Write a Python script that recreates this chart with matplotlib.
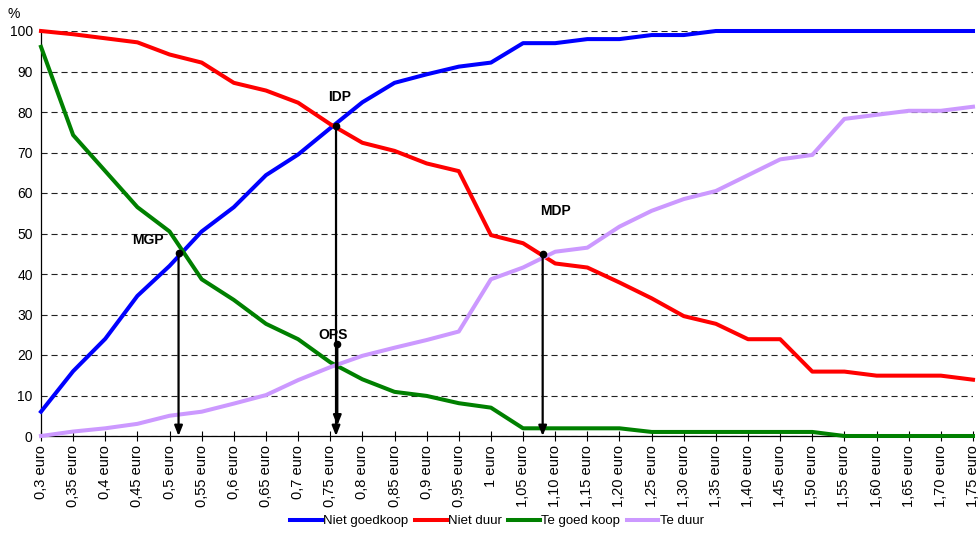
import matplotlib
matplotlib.use("Agg")
import matplotlib.pyplot as plt
import numpy as np

plt.rcParams['font.family'] = ['Liberation Sans', 'DejaVu Sans']

prices = [0.30, 0.35, 0.40, 0.45, 0.50, 0.55, 0.60, 0.65, 0.70, 0.75,
          0.80, 0.85, 0.90, 0.95, 1.00, 1.05, 1.10, 1.15, 1.20, 1.25,
          1.30, 1.35, 1.40, 1.45, 1.50, 1.55, 1.60, 1.65, 1.70, 1.75]
tick_labels = ["0,3 euro", "0,35 euro", "0,4 euro", "0,45 euro", "0,5 euro",
               "0,55 euro", "0,6 euro", "0,65 euro", "0,7 euro", "0,75 euro",
               "0,8 euro", "0,85 euro", "0,9 euro", "0,95 euro", "1 euro",
               "1,05 euro", "1,10 euro", "1,15 euro", "1,20 euro", "1,25 euro",
               "1,30 euro", "1,35 euro", "1,40 euro", "1,45 euro", "1,50 euro",
               "1,55 euro", "1,60 euro", "1,65 euro", "1,70 euro", "1,75 euro"]

niet_goedkoop = [6, 16, 24, 34.6, 42, 50.5, 56.5, 64.4, 69.5, 76,
                 82.4, 87.2, 89.3, 91.2, 92.2, 97, 97, 98, 98, 99,
                 99, 100, 100, 100, 100, 100, 100, 100, 100, 100]
niet_duur = [100, 99.2, 98.2, 97.2, 94.2, 92.2, 87.2, 85.3, 82.3, 77,
             72.4, 70.4, 67.3, 65.4, 49.6, 47.6, 42.6, 41.6, 37.9, 34,
             29.6, 27.7, 23.9, 23.9, 15.9, 15.9, 14.9, 14.9, 14.9, 13.9]
te_goedkoop = [96.1, 74.3, 65.4, 56.5, 50.5, 38.7, 33.6, 27.7, 23.9, 18.2,
               14, 10.9, 9.9, 8.1, 7, 1.9, 1.9, 1.9, 1.9, 1,
               1, 1, 1, 1, 1, 0, 0, 0, 0, 0]
te_duur = [0, 1.1, 1.9, 3, 5, 6, 8, 10.1, 13.8, 17,
           19.8, 21.8, 23.7, 25.8, 38.7, 41.6, 45.5, 46.5, 51.7, 55.6,
           58.5, 60.5, 64.4, 68.3, 69.4, 78.3, 79.3, 80.3, 80.3, 81.3]

series_names = ["Niet goedkoop", "Niet duur", "Te goed koop", "Te duur"]
series_colors = ["#0000FF", "#FF0000", "#008000", "#CC99FF"]

# annotations: label, price (euro), y value of dot, arrow end, label x (euro), label y
ann_labels = ["MGP", "IDP", "OPS", "MDP"]
ann_price = [0.514, 0.759, 0.761, 1.0805]
ann_y = [45.3, 76.5, 22.7, 44.9]
ann_end = [0, 0, 2.6, 0]
ann_text_price = [0.467, 0.765, 0.754, 1.101]
ann_text_y = [48.3, 83.8, 24.9, 55.6]

W, H = 980, 535
fig = plt.figure(figsize=(W / 100, H / 100), dpi=100)
ax = fig.add_axes([41 / W, (H - 436) / H, (973 - 41) / W, (436 - 31) / H])

x = np.arange(len(prices))
def to_idx(p):
    return (p - prices[0]) / (prices[1] - prices[0])

for vals, name, col in zip([niet_goedkoop, niet_duur, te_goedkoop, te_duur],
                           series_names, series_colors):
    ax.plot(x, vals, color=col, lw=2.9, label=name, solid_joinstyle='round',
            zorder=3, clip_on=False)

for lab, p, yv, ye, tp, ty in zip(ann_labels, ann_price, ann_y, ann_end,
                                  ann_text_price, ann_text_y):
    xi = to_idx(p)
    ax.annotate("", xy=(xi, ye), xytext=(xi, yv),
                arrowprops=dict(arrowstyle="-|>,head_length=0.6,head_width=0.24",
                                color="black", lw=1.6, shrinkA=0, shrinkB=0),
                zorder=5)
    ax.plot([xi], [yv], 'o', color='black', ms=4.5, zorder=6)
    ax.text(to_idx(tp), ty, lab, ha='center', va='center', fontsize=10,
            fontweight='bold', zorder=7)

ax.set_xlim(0, len(prices) - 1)
ax.set_ylim(0, 100)
ax.set_yticks(np.arange(0, 101, 10))
ax.set_xticks(x)
ax.set_xticklabels(tick_labels, rotation=90, fontsize=10.5)
ax.tick_params(axis='y', labelsize=10, length=0, pad=6)
ax.tick_params(axis='x', direction='inout', length=7, width=0.8, pad=3)
ax.yaxis.grid(True, color='#222222', lw=0.8, linestyle=(0, (5.5, 3.5)))
ax.set_axisbelow(True)
for s in ['top', 'right']:
    ax.spines[s].set_visible(False)
ax.spines['left'].set_linewidth(0.9)
ax.spines['bottom'].set_linewidth(0.9)

fig.text(14 / W, 1 - 14 / H, "%", ha='center', va='center', fontsize=10)

fig.legend(loc='center', bbox_to_anchor=(497 / W, 1 - 521 / H), ncol=4,
           frameon=False, fontsize=9.5, handlelength=2.4, handletextpad=0.1,
           columnspacing=0.5)

fig.savefig("out.png", dpi=100)
